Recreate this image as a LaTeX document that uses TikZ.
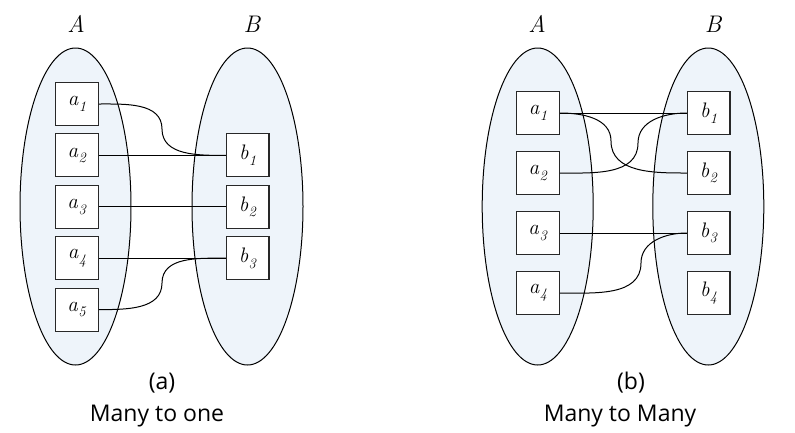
\documentclass[tikz,border=0pt]{standalone}
\usepackage{fontspec}
\newfontfamily\capfont{Open Sans}
\usetikzlibrary{shapes.geometric}
\definecolor{setfill}{RGB}{238,244,250}
\definecolor{boxline}{RGB}{40,40,40}
\newcommand{\elt}[2]{\textit{#1}\kern0.3pt\raisebox{-5.5pt}{\fontsize{14.5}{15}\selectfont\textit{#2}}}
\tikzset{
  setell/.style={ellipse, draw=black, fill=setfill, line width=1pt, minimum width=111pt, minimum height=317pt, inner sep=0pt},
  elem/.style={rectangle, draw=boxline, fill=white, line width=1.1pt, minimum width=42.6pt, minimum height=43pt, inner sep=0pt, font=\fontsize{21}{23}\selectfont},
  setlabel/.style={font=\fontsize{24}{26}\selectfont\itshape},
  caption/.style={font=\capfont\fontsize{23}{26}\selectfont},
  link/.style={draw=black, line width=1pt},
}
\begin{document}
\begin{tikzpicture}[x=1pt,y=-1pt]
\useasboundingbox (0,0) rectangle (795,432);
% ---------- panel (a)
\node[setell] (EA) at (75.5,206.5) {};
\node[setell] (EB) at (247.5,206.5) {};
\node[setlabel] (LA) at (76,24) {A};
\node[setlabel] (LB) at (252,24) {B};
\node[elem] (A1) at (77,104) {\elt{a}{1}};
\node[elem] (A2) at (77,155.4) {\elt{a}{2}};
\node[elem] (A3) at (77,206.8) {\elt{a}{3}};
\node[elem] (A4) at (77,258.2) {\elt{a}{4}};
\node[elem] (A5) at (77,309.6) {\elt{a}{5}};
\node[elem] (B1) at (247.7,155.4) {\elt{b}{1}};
\node[elem] (B2) at (247.7,206.8) {\elt{b}{2}};
\node[elem] (B3) at (247.7,258.2) {\elt{b}{3}};
\coordinate (m1) at (162,129);
\coordinate (m5) at (162,283);
\draw[link] (A1.east) to[out=0,in=90] (m1) to[out=-90,in=180] (B1.west);
\draw[link] (A2.east) -- (B1.west);
\draw[link] (A3.east) -- (B2.west);
\draw[link] (A4.east) -- (B3.west);
\draw[link] (A5.east) to[out=0,in=-90] (m5) to[out=90,in=180] (B3.west);
\node[caption] (ca) at (162,383) {(a)};
\node[caption] (ta) at (157,416) {Many to one};
% ---------- panel (b)
\node[setell] (FA) at (537.7,206.5) {};
\node[setell] (FB) at (708.3,206.5) {};
\node[setlabel] (MA) at (537,24) {A};
\node[setlabel] (MB) at (713,24) {B};
\node[elem] (C1) at (538,113) {\elt{a}{1}};
\node[elem] (C2) at (538,173) {\elt{a}{2}};
\node[elem] (C3) at (538,233) {\elt{a}{3}};
\node[elem] (C4) at (538,293) {\elt{a}{4}};
\node[elem] (D1) at (708.7,113) {\elt{b}{1}};
\node[elem] (D2) at (708.7,173) {\elt{b}{2}};
\node[elem] (D3) at (708.7,233) {\elt{b}{3}};
\node[elem] (D4) at (708.7,293) {\elt{b}{4}};
\coordinate (n12) at (611,141);
\coordinate (n21) at (638,143);
\coordinate (n43) at (641,263);
\draw[link] (C1.east) -- (D1.west);
\draw[link] (C1.east) to[out=0,in=90] (n12) to[out=-90,in=180] (D2.west);
\draw[link] (C2.east) to[out=0,in=-90] (n21) to[out=90,in=180] (D1.west);
\draw[link] (C3.east) -- (D3.west);
\draw[link] (C4.east) to[out=0,in=-90] (n43) to[out=90,in=180] (D3.west);
\node[caption] (cb) at (631,383) {(b)};
\node[caption] (tb) at (620,416) {Many to Many};
\end{tikzpicture}
\end{document}
